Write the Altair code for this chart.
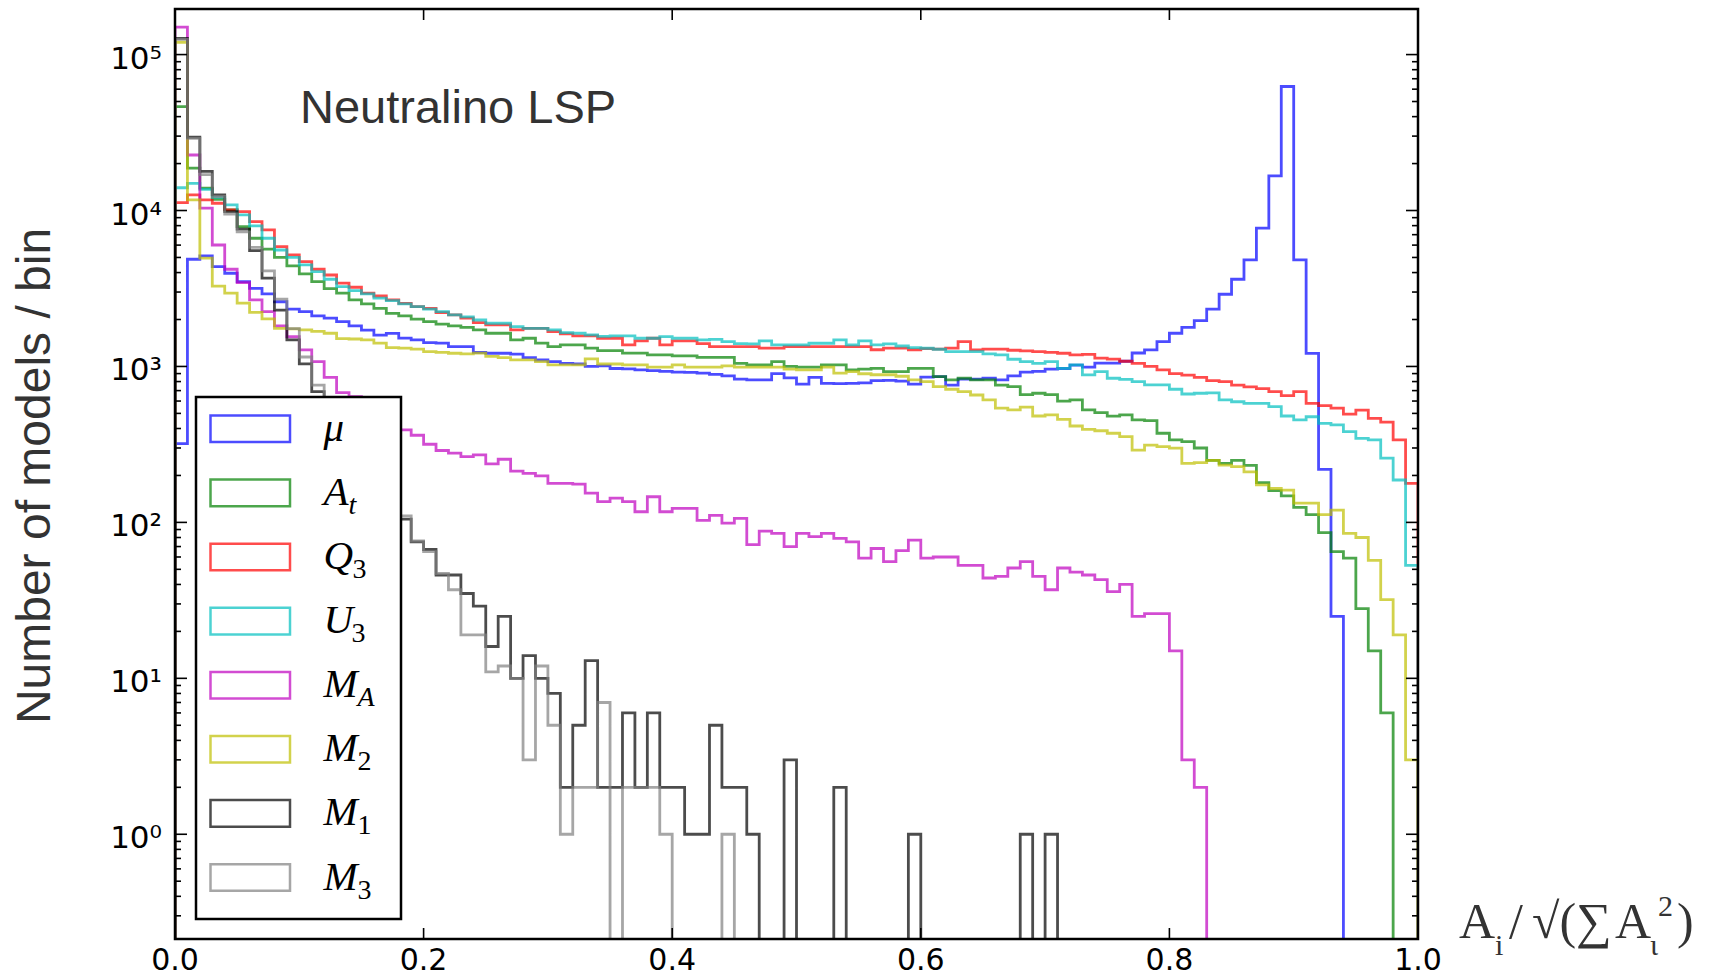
import altair as alt
import pandas as pd

# ---------------- data (counts per bin, bins of width 0.01 from 0 to 1) ----------------
BIN_LEFT = [i / 100 for i in range(100)]

mu = [320, 4870, 5120, 4370, 3960, 3500, 3170, 2920, 2600, 2330,
      2250, 2110, 2040, 1940, 1820, 1710, 1590, 1630, 1520, 1480,
      1420, 1410, 1340, 1340, 1230, 1215, 1215, 1200, 1140, 1100,
      1075, 1045, 1040, 1000, 1010, 970, 965, 950, 940, 930,
      920, 915, 905, 890, 870, 830, 820, 820, 900, 845,
      770, 850, 780, 775, 780, 785, 810, 815, 805, 770,
      855, 860, 760, 830, 830, 840, 820, 870, 920, 930,
      960, 970, 1020, 990, 1050, 1050, 1080, 1220, 1277, 1443,
      1633, 1783, 1966, 2330, 2904, 3625, 4820, 7700, 16700, 62400,
      4820, 1213, 219, 25, 0, 0, 0, 0, 0, 0]

a_t = [46400, 18700, 13900, 11800, 10080, 7890, 6640, 5650, 5010, 4410,
       3920, 3500, 3160, 2950, 2670, 2520, 2360, 2190, 2110, 2010,
       1940, 1870, 1820, 1780, 1715, 1633, 1633, 1480, 1517, 1410,
       1340, 1375, 1375, 1310, 1263, 1263, 1216, 1216, 1186, 1186,
       1168, 1168, 1145, 1145, 1145, 1047, 1023, 1023, 1074, 1000,
       990, 990, 1023, 1023, 950, 960, 973, 927, 927, 973,
       973, 861, 819, 840, 819, 819, 760, 742, 660, 673,
       660, 600, 610, 526, 505, 480, 489, 455, 450, 373,
       338, 330, 300, 250, 239, 250, 232, 180, 160, 148,
       125, 112, 86, 65, 59, 28, 15, 6, 0, 0]

q_3 = [11250, 12600, 11700, 11130, 10090, 9850, 8490, 7510, 5870, 5190,
       4700, 4200, 3860, 3420, 3220, 2950, 2830, 2670, 2540, 2420,
       2360, 2215, 2140, 2040, 1910, 1845, 1845, 1715, 1757, 1757,
       1673, 1616, 1570, 1570, 1517, 1517, 1375, 1459, 1517, 1375,
       1459, 1459, 1400, 1340, 1340, 1340, 1340, 1310, 1310, 1340,
       1340, 1340, 1340, 1340, 1340, 1340, 1280, 1310, 1310, 1280,
       1300, 1290, 1310, 1443, 1277, 1290, 1290, 1270, 1260, 1245,
       1230, 1215, 1185, 1195, 1130, 1115, 1080, 1047, 1000, 950,
       900, 880, 850, 810, 800, 760, 740, 720, 689, 650,
       689, 580, 560, 540, 495, 525, 465, 440, 338, 178]

u_3 = [14000, 14950, 13680, 12150, 10860, 9370, 7970, 6640, 5580, 5010,
       4480, 4060, 3625, 3250, 3065, 2920, 2740, 2645, 2520, 2420,
       2330, 2250, 2140, 2080, 1985, 1892, 1892, 1800, 1757, 1757,
       1715, 1648, 1633, 1592, 1560, 1570, 1570, 1516, 1516, 1552,
       1516, 1516, 1479, 1490, 1443, 1400, 1394, 1458, 1374, 1374,
       1374, 1409, 1409, 1479, 1374, 1458, 1374, 1394, 1353, 1320,
       1308, 1289, 1245, 1245, 1245, 1203, 1185, 1112, 1074, 1048,
       1074, 973, 1023, 882, 926, 840, 827, 799, 761, 761,
       714, 666, 673, 676, 610, 594, 580, 580, 552, 481,
       454, 476, 432, 422, 382, 346, 338, 258, 187, 53]

m_a = [150000, 22700, 10350, 6010, 4200, 3450, 2670, 2250, 1820, 1550,
       1277, 1075, 850, 680, 640, 590, 530, 460, 392, 362,
       317, 289, 278, 264, 271, 237, 254, 213, 206, 199,
       178, 178, 176, 154, 136, 143, 136, 117, 146, 117,
       123, 123, 103, 111, 99, 106, 72, 88, 85, 70,
       85, 81, 85, 79, 75, 59, 68, 56, 66, 77,
       59, 60, 60, 53, 53, 44, 45, 51, 56, 45,
       37, 51, 48, 46, 43, 36, 40, 25, 26, 26,
       15, 3, 2, 0, 0, 0, 0, 0, 0, 0,
       0, 0, 0, 0, 0, 0, 0, 0, 0, 0]

m_2 = [120000, 11700, 4950, 3270, 2950, 2550, 2220, 2020, 1757, 1740,
       1715, 1680, 1633, 1510, 1500, 1480, 1410, 1320, 1310, 1290,
       1245, 1230, 1215, 1203, 1216, 1160, 1140, 1103, 1103, 1075,
       1023, 1023, 1023, 1120, 1037, 1037, 1023, 1023, 990, 990,
       1023, 990, 990, 990, 1008, 990, 990, 990, 990, 960,
       950, 950, 990, 906, 927, 898, 885, 885, 865, 819,
       800, 742, 714, 690, 656, 610, 540, 526, 548, 481,
       489, 458, 415, 395, 387, 373, 355, 291, 313, 306,
       299, 239, 242, 250, 233, 228, 211, 174, 165, 161,
       133, 133, 112, 120, 85, 80, 57, 32, 19, 3]

m_1 = [127000, 29500, 17800, 12600, 9840, 7590, 5530, 3680, 2300, 1480,
       1040, 690, 480, 360, 270, 205, 160, 130, 105, 75,
       67, 46, 46, 35, 29, 16, 25, 10, 14, 10,
       8, 2, 5, 13, 2, 2, 6, 2, 6, 2,
       2, 1, 1, 5, 2, 2, 1, 0, 0, 3,
       0, 0, 0, 2, 0, 0, 0, 0, 0, 1,
       0, 0, 0, 0, 0, 0, 0, 0, 1, 0,
       1, 0, 0, 0, 0, 0, 0, 0, 0, 0,
       0, 0, 0, 0, 0, 0, 0, 0, 0, 0,
       0, 0, 0, 0, 0, 0, 0, 0, 0, 0]

m_3 = [125000, 29000, 17000, 12300, 9500, 7300, 5800, 4100, 2700, 1750,
       1150, 760, 500, 380, 280, 210, 165, 135, 110, 76,
       65, 47, 37, 19, 19, 11, 12, 10, 3, 12,
       5, 1, 2, 2, 7, 0, 2, 2, 2, 1,
       0, 0, 0, 0, 1, 0, 0, 0, 0, 0,
       0, 0, 0, 0, 0, 0, 0, 0, 0, 0,
       0, 0, 0, 0, 0, 0, 0, 0, 0, 0,
       0, 0, 0, 0, 0, 0, 0, 0, 0, 0,
       0, 0, 0, 0, 0, 0, 0, 0, 0, 0,
       0, 0, 0, 0, 0, 0, 0, 0, 0, 0]

SERIES = ["mu", "A_t", "Q_3", "U_3", "M_A", "M_2", "M_1", "M_3"]
COUNTS = [mu, a_t, q_3, u_3, m_a, m_2, m_1, m_3]
COLORS = ["#0000ff", "#008000", "#ff0000", "#00bfbf", "#bf00bf", "#bfbf00", "#000000", "#808080"]
LEG_MAIN = ["μ", "A", "Q", "U", "M", "M", "M", "M"]
LEG_SUB = ["", "t", "3", "3", "A", "2", "1", "3"]

X_LABELS = [0.0, 0.2, 0.4, 0.6, 0.8, 1.0]
Y_MAJOR = [1, 10, 100, 1000, 10000, 100000]
SUPERSCRIPT = {0: "⁰", 1: "¹", 2: "²", 3: "³", 4: "⁴", 5: "⁵"}
Y_DOMAIN = [0.213, 196000]
Y_MINOR = [m * 10.0 ** k for k in range(-1, 6) for m in range(2, 10)
           if Y_DOMAIN[0] < m * 10.0 ** k < Y_DOMAIN[1]]

# ---------------- layout ----------------
W, H = 1243, 930
PAD = {"left": 175, "top": 9, "right": 1716 - 175 - W, "bottom": 978 - 9 - H}
FLOOR = 1e-3  # empty bins drop below the axis (clipped), like matplotlib on a log axis
LW = 2.8
ALPHA = 0.7

X_SCALE = alt.Scale(domain=[0, 1], nice=False, zero=False)
Y_SCALE = alt.Scale(type="log", domain=Y_DOMAIN, nice=False)
X_ENC = alt.X("x:Q", scale=X_SCALE, axis=None)
Y_ENC = alt.Y("y:Q", scale=Y_SCALE, axis=None)

# step outlines
recs = []
for name, counts in zip(SERIES, COUNTS):
    pts = [(0.0, FLOOR)] + [(BIN_LEFT[i], max(c, FLOOR)) for i, c in enumerate(counts)]
    pts += [(1.0, max(counts[-1], FLOOR)), (1.0, FLOOR)]
    for j, (xv, yv) in enumerate(pts):
        recs.append({"series": name, "x": xv, "y": yv, "o": j})
lines_df = pd.DataFrame(recs)

layers = []
for name, col in zip(SERIES, COLORS):
    layers.append(
        alt.Chart(lines_df).transform_filter(alt.datum.series == name)
        .mark_line(interpolate="step-after", clip=True, color=col,
                   strokeWidth=LW, strokeOpacity=ALPHA)
        .encode(x=X_ENC, y=Y_ENC, order="o:Q")
    )

# inward ticks (matplotlib style)
def y_ticks(vals, length, right):
    x0, x1 = (W - length, W) if right else (0, length)
    return alt.Chart(pd.DataFrame({"y": vals})).mark_rule(color="black", strokeWidth=1.6).encode(
        y=alt.Y("y:Q", scale=Y_SCALE, axis=None), x=alt.value(x0), x2=alt.value(x1))

def x_ticks(vals, length, top):
    y0, y1 = (0, length) if top else (H - length, H)
    return alt.Chart(pd.DataFrame({"x": vals})).mark_rule(color="black", strokeWidth=1.6).encode(
        x=alt.X("x:Q", scale=X_SCALE, axis=None), y=alt.value(y0), y2=alt.value(y1))

for right in (False, True):
    layers.append(y_ticks(Y_MAJOR, 12, right))
    layers.append(y_ticks(Y_MINOR, 6, right))
for top in (False, True):
    layers.append(x_ticks(X_LABELS[1:-1], 11, top))

# tick labels, placed through the scales
xlab_df = pd.DataFrame({"x": X_LABELS, "t": [f"{v:.1f}" for v in X_LABELS]})
layers.append(alt.Chart(xlab_df).mark_text(font="DejaVu Sans", fontSize=30, color="black",
                                          align="center", baseline="alphabetic").encode(
    x=alt.X("x:Q", scale=X_SCALE, axis=None), y=alt.value(H + 31), text="t:N"))
ylab_df = pd.DataFrame({"y": Y_MAJOR,
                        "t": ["10" + SUPERSCRIPT[len(str(v)) - 1] for v in Y_MAJOR]})
layers.append(alt.Chart(ylab_df).mark_text(font="DejaVu Sans", fontSize=31, color="black",
                                          align="right", baseline="alphabetic", dy=14).encode(
    y=alt.Y("y:Q", scale=Y_SCALE, axis=None), x=alt.value(-13), text="t:N"))

# legend
LEG_BOX = (21, 226, 388, 910)
ROW0, ROWSTEP = 419.8, 64.1
SUB_DX = {"A": 25, "Q": 29, "U": 28, "M": 34}
leg_rows = []
for k, (main, sub, col) in enumerate(zip(LEG_MAIN, LEG_SUB, COLORS)):
    yc = ROW0 + ROWSTEP * k
    leg_rows.append({"k": k, "col": col, "x0": 35.5, "x1": 115, "y0": yc - 13.3, "y1": yc + 13.3,
                     "main": main, "sub": sub, "mx": 148.5, "my": yc + 12,
                     "sx": 148.5 + SUB_DX.get(main, 0), "sy": yc + 21,
                     "sub_italic": sub.isalpha()})
leg_df = pd.DataFrame(leg_rows)

one = pd.DataFrame({"a": [0]})
layers.append(alt.Chart(one).mark_rect(fill="white", stroke="black", strokeWidth=2.5).encode(
    x=alt.value(LEG_BOX[0]), x2=alt.value(LEG_BOX[1]), y=alt.value(LEG_BOX[2]), y2=alt.value(LEG_BOX[3])))
layers.append(alt.Chart(leg_df).mark_rect(fillOpacity=0, strokeWidth=2.5, strokeOpacity=ALPHA).encode(
    x=alt.X("x0:Q", scale=None, axis=None), x2="x1:Q",
    y=alt.Y("y0:Q", scale=None, axis=None), y2="y1:Q",
    stroke=alt.Stroke("col:N", scale=None)))
layers.append(alt.Chart(leg_df).mark_text(font="Liberation Serif", fontStyle="italic", fontSize=41,
                                         align="left", baseline="alphabetic", color="black").encode(
    x=alt.X("mx:Q", scale=None, axis=None), y=alt.Y("my:Q", scale=None, axis=None), text="main:N"))
layers.append(alt.Chart(leg_df).transform_filter("datum.sub_italic").mark_text(
    font="Liberation Serif", fontStyle="italic", fontSize=28, align="left", baseline="alphabetic",
    color="black").encode(
    x=alt.X("sx:Q", scale=None, axis=None), y=alt.Y("sy:Q", scale=None, axis=None), text="sub:N"))
layers.append(alt.Chart(leg_df).transform_filter("!datum.sub_italic && datum.sub != ''").mark_text(
    font="Liberation Serif", fontSize=28, align="left", baseline="alphabetic", color="black").encode(
    x=alt.X("sx:Q", scale=None, axis=None), y=alt.Y("sy:Q", scale=None, axis=None), text="sub:N"))

# annotations
def txt(text, x, y, size, font, color="#333333", angle=0, align="left", style="normal"):
    return alt.Chart(one).mark_text(text=text, font=font, fontSize=size, color=color, angle=angle,
                                    align=align, baseline="alphabetic", fontStyle=style).encode(
        x=alt.value(x), y=alt.value(y))

layers.append(txt("Neutralino LSP", 125, 114, 47, "Liberation Sans"))
layers.append(txt("Number of models / bin", -125, 467, 48, "Liberation Sans", angle=270, align="center"))

SERIF = "Liberation Serif"
layers.append(txt("A", 1284, 929, 50, SERIF))
layers.append(txt("i", 1320, 946, 30, SERIF))
layers.append(txt("/", 1334, 929, 50, SERIF))
layers.append(txt("√(∑", 1357, 929, 50, SERIF))
layers.append(txt("A", 1440, 929, 50, SERIF))
layers.append(txt("ι", 1475, 946, 30, SERIF))
layers.append(txt("2", 1483, 907, 30, SERIF))
layers.append(txt(")", 1502, 929, 50, SERIF))

# frame on top
layers.append(alt.Chart(one).mark_rect(fillOpacity=0, stroke="black", strokeWidth=2.5).encode(
    x=alt.value(0), x2=alt.value(W), y=alt.value(0), y2=alt.value(H)))

chart = alt.layer(*layers).properties(
    width=W, height=H, padding=PAD, autosize=alt.AutoSizeParams(type="none"), background="white"
).configure_view(stroke=None)

chart.save("out.html", embed_options={"renderer": "svg", "actions": False})
